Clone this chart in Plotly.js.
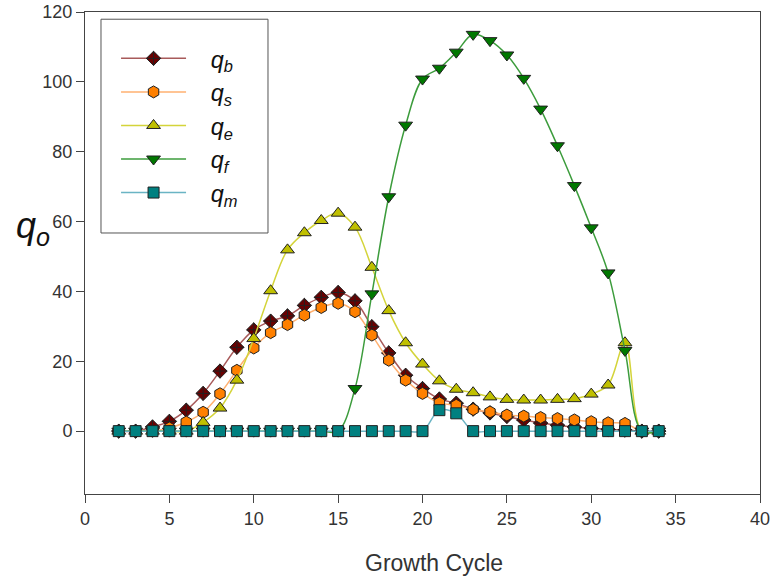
<!DOCTYPE html>
<html>
<head>
<meta charset="utf-8">
<script src="https://cdn.plot.ly/plotly-3.0.1.min.js"></script>
<style>html,body{margin:0;padding:0;background:#fff;}#chart{width:772px;height:581px;}</style>
</head>
<body>
<div id="chart"></div>
<script>
var cycles = [2,3,4,5,6,7,8,9,10,11,12,13,14,15,16,17,18,19,20,21,22,23,24,25,26,27,28,29,30,31,32,33,34];
var qb = [0,0,1.2,2.8,6,10.8,17.2,24,29,31.5,33,36,38.3,39.7,37.3,29.9,22.4,16,12.2,9.2,8,6.3,5.2,4.2,3.2,2.3,1.7,1.2,0.8,0.5,0.3,0,0];
var qs = [0,0,0,0.9,2.6,5.4,10.7,17.4,23.8,28.2,30.5,33.2,35.4,36.6,34.2,27.5,20.3,14.6,10.8,8.1,7.4,6.2,5.5,4.6,4.3,3.9,3.6,3.2,2.7,2.4,2.2,0,0];
var qe = [0,0,0,0,0,2.5,6.6,14.6,26.5,40.2,51.9,56.8,60.3,62.4,58.4,46.9,34.5,25.3,19.2,14.4,12,11,9.8,9.1,8.9,8.9,9.1,9.3,10.6,13.2,25.3,0,0];
var qf = [0,0,0,0,0,0,0,0,0,0,0,0,0,0,12.2,39.3,67.1,87.6,100.8,103.9,108.5,113.6,111.8,107.7,101,92.2,81.7,70.3,58.2,45.3,23.1,0,0];
var qm = [0,0,0,0,0,0,0,0,0,0,0,0,0,0,0,0,0,0,0,6,5.1,0,0,0,0,0,0,0,0,0,0,0,0];
var pad = '&nbsp;&nbsp;&nbsp;';
var seriesNames = [pad+'<i>q</i><sub><i>b</i></sub>', pad+'<i>q</i><sub><i>s</i></sub>', pad+'<i>q</i><sub><i>e</i></sub>', pad+'<i>q</i><sub><i>f</i></sub>', pad+'<i>q</i><sub><i>m</i></sub>'];
var xTicks = [0,5,10,15,20,25,30,35,40];
var yTicks = [0,20,40,60,80,100,120];
var xTitle = 'Growth Cycle';
var yTitle = '<i>q</i><sub><i>o</i></sub>';

function tr(y, name, lineColor, fill, symbol, size){
  return {x: cycles, y: y, name: name, type: 'scatter', mode: 'lines+markers',
    line: {color: lineColor, width: 1.5, shape: 'spline', smoothing: 1},
    marker: {symbol: symbol, size: size, color: fill, line: {color: '#202020', width: 1}}};
}
var data = [
  tr(qb, seriesNames[0], '#a85a5a', '#6a0000', 'diamond-cross', 11),
  tr(qs, seriesNames[1], '#ffb070', '#ff8000', 'hexagon', 12),
  tr(qe, seriesNames[2], '#d4d43a', '#c0c000', 'triangle-up', 12),
  tr(qf, seriesNames[3], '#3c9c3c', '#007800', 'triangle-down', 12),
  tr(qm, seriesNames[4], '#6ab4c4', '#008080', 'square', 11)
];
var fam = 'Liberation Sans, Arial, sans-serif';
var axFont = {family: fam, size: 18, color: '#333'};
var layout = {
  width: 772, height: 581,
  margin: {l: 85, r: 12, t: 12, b: 87},
  paper_bgcolor: '#fff', plot_bgcolor: '#fff',
  showlegend: true,
  xaxis: {range: [0, 40], tickvals: xTicks, ticks: 'outside', ticklen: 8, tickcolor: '#444',
    showline: true, linecolor: '#444', linewidth: 1, mirror: true, showgrid: false, zeroline: false,
    tickfont: axFont},
  yaxis: {range: [-18, 120], tickvals: yTicks, ticks: 'outside', ticklen: 8, tickcolor: '#444',
    showline: true, linecolor: '#444', linewidth: 1, mirror: true, showgrid: false, zeroline: false,
    tickfont: axFont},
  legend: {x: 0.046, y: 0.949, xanchor: 'left', yanchor: 'top', bgcolor: 'rgba(0,0,0,0)',
    borderwidth: 0, itemwidth: 65,
    font: {family: fam, size: 23.5, color: '#111'},
    tracegroupgap: 0},
  shapes: [{type: 'rect', xref: 'paper', yref: 'paper', x0: 0.0237, x1: 0.2711, y0: 0.5415, y1: 0.985,
    line: {color: '#555', width: 1}, fillcolor: '#fff', layer: 'below'}],
  annotations: [
    {xref: 'paper', yref: 'paper', x: -0.049, y: 0.552, xanchor: 'right', showarrow: false,
      text: yTitle, font: {family: fam, size: 36, color: '#111'}},
    {xref: 'paper', yref: 'paper', x: 0.517, y: -0.143, xanchor: 'center', yanchor: 'middle', showarrow: false,
      text: xTitle, font: {family: fam, size: 23, color: '#333'}}
  ]
};
Plotly.newPlot('chart', data, layout, {displayModeBar: false, staticPlot: true});
</script>
</body>
</html>
